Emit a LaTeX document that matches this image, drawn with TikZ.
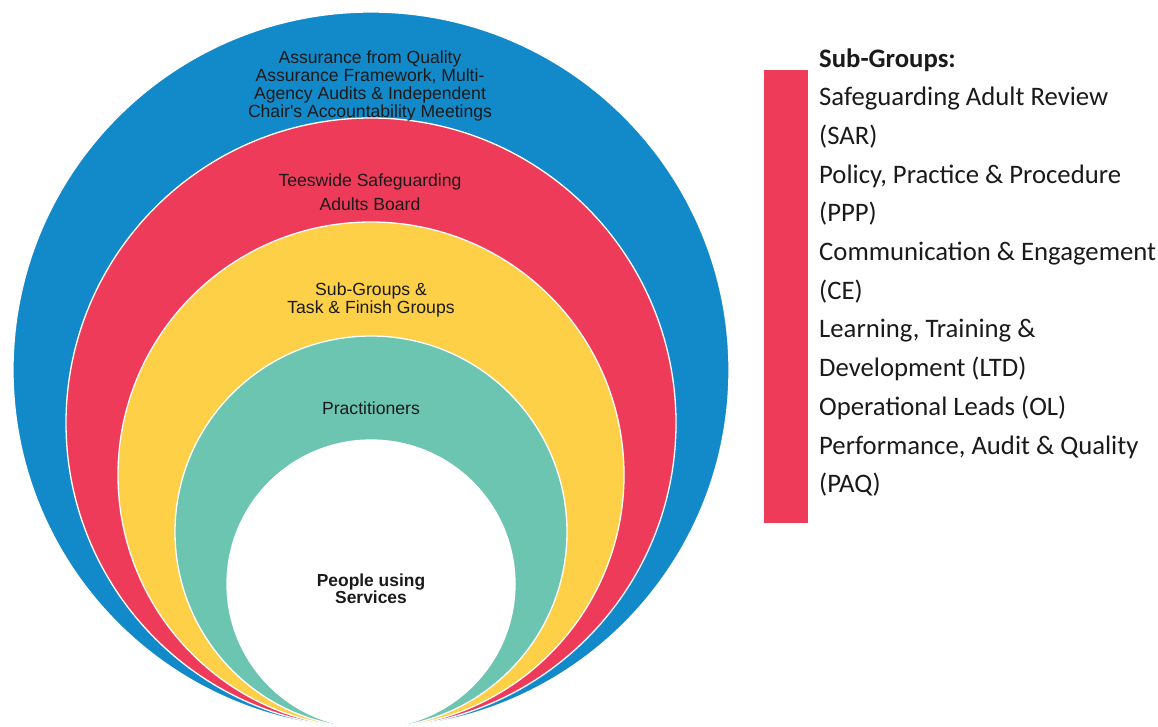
\documentclass[tikz,border=0pt]{standalone}
\usepackage{fontspec}
\setmainfont{Liberation Sans}
\newfontfamily\circfont{Liberation Sans}
\newfontfamily\legendfont{Carlito}
\definecolor{cblue}{HTML}{1289C9}
\definecolor{cred}{HTML}{EF3B5A}
\definecolor{cyellow}{HTML}{FDD048}
\definecolor{cteal}{HTML}{6BC5B1}
\definecolor{txt}{HTML}{1A1A1A}
\begin{document}
\begin{tikzpicture}[x=1pt,y=-1pt,
  ring/.style={circle, draw=white, line width=1.3pt, inner sep=0pt},
  ctext/.style={anchor=base, font=\circfont\fontsize{17.6}{18}\selectfont, text=txt, inner sep=0pt},
  btext/.style={ctext, font=\circfont\bfseries\fontsize{17.4}{18}\selectfont},
  ltext/.style={anchor=base west, font=\legendfont\fontsize{26.7}{30}\selectfont, text=txt, inner sep=0pt},
  lbold/.style={ltext, font=\legendfont\bfseries\fontsize{26.7}{30}\selectfont}]
\useasboundingbox (0,0) rectangle (1158,726);
\node[ring, fill=cblue, minimum size=716pt] (blue) at (371,370) {};
\node[ring, fill=cred, minimum size=610pt] (red) at (371,423) {};
\node[ring, fill=cyellow, minimum size=506pt] (yellow) at (371,475) {};
\node[ring, fill=cteal, minimum size=392pt] (teal) at (371,532) {};
\node[ring, fill=white, minimum size=288pt] (core) at (371,584) {};
% circle labels
\node[ctext] (b1) at (370,63) {Assurance from Quality};
\node[ctext] (b2) at (370,81) {Assurance Framework, Multi-};
\node[ctext] (b3) at (370,99) {Agency Audits \& Independent};
\node[ctext] (b4) at (370,117) {Chair's Accountability Meetings};
\node[ctext] (r1) at (370,186) {Teeswide Safeguarding};
\node[ctext] (r2) at (370,210) {Adults Board};
\node[ctext] (y1) at (371,295) {Sub-Groups \&};
\node[ctext] (y2) at (371,313) {Task \& Finish Groups};
\node[ctext] (t1) at (371,414) {Practitioners};
\node[btext] (p1) at (371,586) {People using};
\node[btext] (p2) at (371,603) {Services};
% legend
\node[fill=cred, minimum width=44pt, minimum height=453pt, inner sep=0pt, anchor=north west] (bar) at (764,70) {};
\node[lbold] (l0) at (819,67) {Sub-Groups:};
\node[ltext] (l1) at (819,105.7) {Safeguarding Adult Review};
\node[ltext] (l2) at (819,144.4) {(SAR)};
\node[ltext] (l3) at (819,183.1) {Policy, Practice \& Procedure};
\node[ltext] (l4) at (819,221.8) {(PPP)};
\node[ltext] (l5) at (819,260.5) {Communication \& Engagement};
\node[ltext] (l6) at (819,299.2) {(CE)};
\node[ltext] (l7) at (819,337.9) {Learning, Training \&};
\node[ltext] (l8) at (819,376.6) {Development (LTD)};
\node[ltext] (l9) at (819,415.3) {Operational Leads (OL)};
\node[ltext] (l10) at (819,454.0) {Performance, Audit \& Quality};
\node[ltext] (l11) at (819,492.7) {(PAQ)};
\end{tikzpicture}
\end{document}
